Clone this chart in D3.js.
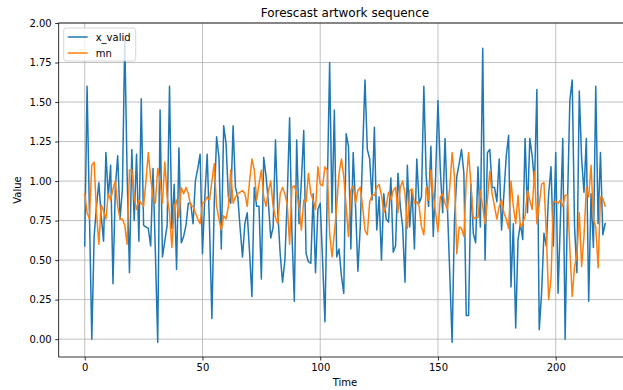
<!DOCTYPE html>
<html>
<head>
<meta charset="utf-8">
<title>Forescast artwork sequence</title>
<script src="https://cdn.jsdelivr.net/npm/d3@7"></script>
<style>
  body { margin: 0; background: #fff; }
  svg { display: block; font-family: "DejaVu Sans", sans-serif; }
</style>
</head>
<body>
<div id="chart"></div>
<script>
// values, index = time step
const xValid = [
  0.59, 1.60, 0.80, 0.00, 0.65, 0.84, 0.99, 0.78, 0.62, 1.18,
  0.90, 1.10, 0.35, 0.96, 1.16, 0.76, 0.95, 1.90, 1.05, 0.42,
  1.20, 0.75, 1.17, 0.62, 1.52, 0.72, 0.71, 0.70, 0.59, 1.08,
  0.55, -0.02, 1.45, 0.52, 0.62, 0.72, 1.60, 0.70, 0.98, 0.44,
  1.21, 0.61, 0.65, 0.72, 0.86, 0.86, 0.73, 1.00, 1.08, 1.17,
  0.54, 0.90, 1.17, 0.71, 0.13, 0.86, 1.28, 1.15, 0.57, 1.35,
  1.24, 0.90, 0.86, 1.35, 0.96, 0.90, 0.70, 0.52, 0.73, 0.80,
  0.55, 0.27, 0.96, 0.84, 0.84, 0.38, 1.15, 1.03, 0.86, 0.64,
  0.71, 1.26, 0.80, 0.54, 0.36, 0.50, 0.90, 1.40, 0.67, 0.24,
  1.26, 0.73, 1.00, 1.32, 0.54, 0.49, 0.48, 0.92, 0.42, 0.82,
  0.86, 0.50, 0.11, 0.95, 1.75, 0.80, 1.45, 0.52, 0.57, 0.40,
  0.29, 1.30, 1.22, 0.57, 1.18, 0.84, 0.43, 0.71, 1.18, 1.64,
  1.20, 1.14, 0.88, 1.34, 0.69, 0.90, 0.50, 0.92, 0.76, 0.74,
  1.02, 0.55, 0.59, 1.05, 0.84, 0.71, 0.36, 1.10, 0.71, 0.94,
  0.57, 1.14, 0.86, 0.90, 1.60, 1.03, 0.84, 1.22, 0.65, 1.03,
  1.51, 1.07, 0.80, 1.27, 0.84, 0.42, -0.02, 0.75, 1.03, 1.11,
  1.20, 1.05, 0.15, 0.15, 0.98, 0.67, 0.61, 1.09, 0.71, 1.84,
  0.50, 1.18, 1.20, 0.96, 0.96, 0.87, 1.14, 0.69, 0.92, 1.16,
  1.29, 0.33, 0.73, 0.07, 0.63, 0.73, 0.63, 1.27, 0.80, 1.27,
  1.16, 0.99, 1.58, 0.06, 0.29, 0.67, 0.59, 0.92, 1.09, 0.59,
  1.18, 0.29, 0.76, 1.27, 0.00, 0.86, 1.51, 1.64, 0.71, 0.42,
  1.57, 1.14, 0.93, 1.27, 0.24, 0.92, 0.58, 1.60, 0.73, 1.18,
  0.66, 0.73
];

const mn = [
  0.92, 0.80, 0.76, 1.10, 1.12, 0.80, 0.60, 0.85, 0.81, 0.76,
  0.92, 0.88, 0.95, 1.00, 0.84, 0.76, 0.76, 0.72, 0.60, 1.07,
  1.07, 0.90, 0.82, 0.88, 0.86, 0.84, 1.00, 1.18, 1.02, 0.90,
  0.86, 1.08, 1.00, 0.86, 1.12, 0.90, 0.80, 0.58, 0.84, 0.88,
  0.77, 0.96, 0.92, 0.96, 0.92, 0.84, 0.84, 0.80, 0.76, 0.73,
  0.86, 0.87, 0.90, 0.88, 1.00, 1.11, 0.84, 0.76, 0.69, 0.78,
  0.76, 0.84, 1.07, 0.86, 0.90, 0.92, 0.93, 0.94, 0.92, 0.84,
  1.00, 1.14, 1.07, 0.88, 0.98, 1.07, 0.90, 0.84, 0.94, 1.00,
  0.84, 0.77, 0.73, 0.92, 0.96, 0.92, 0.85, 0.60, 0.96, 0.97,
  0.92, 0.84, 0.69, 0.88, 0.87, 1.05, 0.92, 0.88, 0.82, 1.09,
  0.98, 0.97, 1.09, 1.07, 0.67, 0.52, 0.67, 0.84, 1.05, 1.14,
  1.03, 0.84, 0.65, 0.94, 0.97, 0.86, 0.94, 0.96, 0.84, 0.69,
  0.66, 0.87, 0.91, 0.91, 0.96, 0.98, 0.91, 0.80, 0.84, 0.93,
  0.88, 0.94, 0.96, 0.80, 0.96, 1.00, 0.92, 0.70, 0.94, 0.95,
  0.86, 0.87, 0.84, 0.71, 0.66, 0.96, 0.88, 1.07, 0.91, 0.80,
  0.68, 0.90, 0.92, 0.86, 0.82, 0.96, 1.18, 1.03, 0.54, 0.71,
  0.70, 0.65, 1.00, 1.18, 0.98, 0.76, 0.77, 0.77, 0.94, 0.84,
  0.73, 0.88, 1.06, 0.92, 0.84, 0.76, 0.84, 0.88, 0.80, 0.76,
  0.70, 1.00, 0.84, 0.73, 0.91, 0.71, 0.73, 0.78, 0.94, 0.88,
  0.82, 1.06, 0.73, 0.85, 0.98, 0.99, 0.67, 0.25, 0.38, 0.87,
  0.87, 0.86, 0.88, 0.84, 0.91, 0.91, 0.57, 0.27, 0.46, 0.53,
  0.80, 0.46, 0.65, 0.96, 0.90, 1.10, 0.76, 0.71, 0.45, 0.90,
  0.89, 0.84
];

const seriesNames = ["x_valid", "mn"];
const seriesColors = ["#1f77b4", "#ff7f0e"];
const xTicks = [0, 50, 100, 150, 200];
const yTicks = [0, 0.25, 0.5, 0.75, 1.0, 1.25, 1.5, 1.75, 2.0];

const width = 623, height = 390;
// the axes run past the right edge of the picture, as in the original crop
const plot = { left: 58.7, top: 23, right: 631.2, bottom: 357 };

const svg = d3.select("#chart").append("svg")
  .attr("width", width)
  .attr("height", height);

const x = d3.scaleLinear().domain([-11.05, 232.05]).range([plot.left, plot.right]);
const y = d3.scaleLinear().domain([-0.113, 2.0]).range([plot.bottom, plot.top]);

svg.append("clipPath").attr("id", "clip")
  .append("rect")
  .attr("x", plot.left).attr("y", plot.top)
  .attr("width", plot.right - plot.left).attr("height", plot.bottom - plot.top);

// grid
const grid = svg.append("g");
grid.selectAll(".gx").data(xTicks).enter().append("line")
  .attr("x1", d => x(d)).attr("x2", d => x(d))
  .attr("y1", plot.top).attr("y2", plot.bottom)
  .attr("stroke", "#b0b0b0").attr("stroke-width", 0.8);
grid.selectAll(".gy").data(yTicks).enter().append("line")
  .attr("x1", plot.left).attr("x2", plot.right)
  .attr("y1", d => y(d)).attr("y2", d => y(d))
  .attr("stroke", "#b0b0b0").attr("stroke-width", 0.8);

// the two series
const line = d3.line().x((d, i) => x(i)).y(d => y(d));
const lines = svg.append("g").attr("clip-path", "url(#clip)");
[xValid, mn].forEach(function(s, k){
  lines.append("path")
    .datum(s)
    .attr("d", line)
    .attr("fill", "none")
    .attr("stroke", seriesColors[k])
    .attr("stroke-width", 1.5)
    .attr("stroke-linejoin", "round")
    .attr("stroke-linecap", "square");
});

// axes
const xAxis = svg.append("g")
  .attr("transform", "translate(0," + plot.bottom + ")")
  .call(d3.axisBottom(x).tickValues(xTicks).tickSize(3.5).tickPadding(3.5));
const yAxis = svg.append("g")
  .attr("transform", "translate(" + plot.left + ",0)")
  .call(d3.axisLeft(y).tickValues(yTicks).tickFormat(d3.format(".2f")).tickSize(3.5).tickPadding(3.5));
[xAxis, yAxis].forEach(function(a){
  a.select(".domain").remove();
  a.selectAll("line").attr("stroke", "#000").attr("stroke-width", 0.8);
  a.selectAll("text").attr("font-size", 10).attr("fill", "#000")
    .attr("font-family", "DejaVu Sans, sans-serif");
});

// spines
svg.append("rect")
  .attr("x", plot.left).attr("y", plot.top)
  .attr("width", plot.right - plot.left).attr("height", plot.bottom - plot.top)
  .attr("fill", "none").attr("stroke", "#000").attr("stroke-width", 0.8);

// titles
svg.append("text")
  .attr("x", (plot.left + plot.right) / 2).attr("y", 17)
  .attr("text-anchor", "middle").attr("font-size", 12)
  .text("Forescast artwork sequence");
svg.append("text")
  .attr("x", (plot.left + plot.right) / 2).attr("y", 386)
  .attr("text-anchor", "middle").attr("font-size", 10)
  .text("Time");
svg.append("text")
  .attr("transform", "translate(21," + ((plot.top + plot.bottom) / 2) + ") rotate(-90)")
  .attr("text-anchor", "middle").attr("font-size", 10)
  .text("Value");

// legend
const legend = svg.append("g").attr("transform", "translate(63.7,28)");
legend.append("rect")
  .attr("width", 72).attr("height", 33).attr("rx", 2.5)
  .attr("fill", "#fff").attr("fill-opacity", 0.8)
  .attr("stroke", "#cccccc").attr("stroke-width", 0.8);
seriesNames.forEach(function(name, k){
  const row = legend.append("g").attr("transform", "translate(0," + (9 + k * 16) + ")");
  row.append("line")
    .attr("x1", 4).attr("x2", 24)
    .attr("stroke", seriesColors[k]).attr("stroke-width", 1.5);
  row.append("text")
    .attr("x", 32).attr("y", 3.5)
    .attr("font-size", 10)
    .text(name);
});
</script>
</body>
</html>
